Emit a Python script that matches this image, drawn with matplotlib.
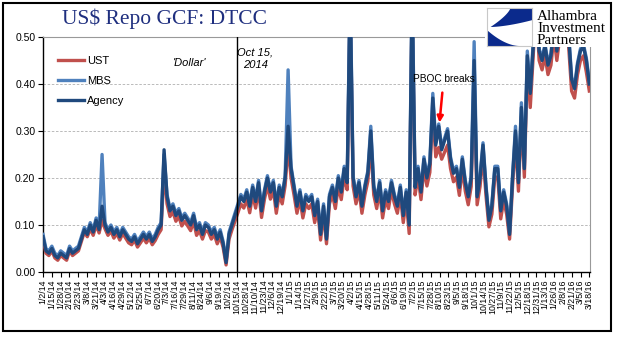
import numpy as np
import pandas as pd
import matplotlib
matplotlib.use("Agg")
import matplotlib.pyplot as plt
from matplotlib.patches import Rectangle, Polygon

# Series, ~7 samples per month, Jan 2014 .. mid-Mar 2016
agency = [
    0.075, 0.045, 0.040, 0.050, 0.035, 0.030, 0.040,   # Jan 14
    0.035, 0.030, 0.050, 0.040, 0.045, 0.050, 0.070,   # Feb
    0.090, 0.080, 0.100, 0.085, 0.110, 0.090, 0.140,   # Mar
    0.100, 0.085, 0.095, 0.080, 0.090, 0.075, 0.090,   # Apr
    0.080, 0.070, 0.065, 0.075, 0.060, 0.070, 0.080,   # May
    0.070, 0.080, 0.065, 0.075, 0.090, 0.100, 0.260,   # Jun
    0.160, 0.130, 0.140, 0.120, 0.130, 0.110, 0.120,   # Jul
    0.110, 0.100, 0.120, 0.090, 0.100, 0.080, 0.100,   # Aug
    0.095, 0.080, 0.090, 0.070, 0.085, 0.060, 0.020,   # Sep
    0.080, 0.100, 0.120, 0.140, 0.160, 0.150, 0.170,   # Oct
    0.140, 0.180, 0.150, 0.190, 0.130, 0.170, 0.200,   # Nov
    0.170, 0.190, 0.140, 0.180, 0.160, 0.200, 0.310,   # Dec
    0.220, 0.180, 0.140, 0.170, 0.130, 0.160, 0.150,   # Jan 15
    0.160, 0.120, 0.150, 0.080, 0.140, 0.070, 0.160,   # Feb
    0.180, 0.150, 0.200, 0.170, 0.220, 0.190, 0.600,   # Mar
    0.200, 0.160, 0.190, 0.140, 0.180, 0.210, 0.300,   # Apr
    0.180, 0.150, 0.190, 0.130, 0.170, 0.150, 0.190,   # May
    0.160, 0.140, 0.180, 0.120, 0.170, 0.100, 0.600,   # Jun
    0.180, 0.220, 0.170, 0.240, 0.200, 0.230, 0.370,   # Jul
    0.270, 0.310, 0.260, 0.280, 0.300, 0.240, 0.210,   # Aug
    0.220, 0.180, 0.240, 0.190, 0.160, 0.200, 0.450,   # Sep
    0.160, 0.200, 0.270, 0.180, 0.110, 0.140, 0.220,   # Oct
    0.220, 0.130, 0.170, 0.140, 0.080, 0.200, 0.300,   # Nov
    0.190, 0.350, 0.220, 0.460, 0.380, 0.480, 0.600,   # Dec
    0.470, 0.450, 0.480, 0.440, 0.460, 0.520, 0.470,   # Jan 16
    0.520, 0.560, 0.540, 0.500, 0.410, 0.390, 0.440,   # Feb
    0.470, 0.480, 0.450, 0.400,                        # Mar
]

ust = [
    0.070, 0.040, 0.035, 0.045, 0.030, 0.025, 0.035,
    0.030, 0.025, 0.045, 0.035, 0.040, 0.045, 0.065,
    0.085, 0.075, 0.092, 0.078, 0.100, 0.083, 0.110,
    0.092, 0.078, 0.087, 0.072, 0.082, 0.068, 0.082,
    0.072, 0.062, 0.058, 0.068, 0.053, 0.062, 0.072,
    0.062, 0.072, 0.058, 0.067, 0.080, 0.090, 0.220,
    0.145, 0.118, 0.128, 0.108, 0.118, 0.098, 0.108,
    0.098, 0.088, 0.108, 0.078, 0.088, 0.070, 0.088,
    0.085, 0.070, 0.080, 0.060, 0.075, 0.052, 0.015,
    0.070, 0.090, 0.108, 0.126, 0.145, 0.136, 0.155,
    0.126, 0.165, 0.136, 0.175, 0.116, 0.155, 0.184,
    0.155, 0.175, 0.125, 0.165, 0.145, 0.184, 0.270,
    0.200, 0.164, 0.125, 0.155, 0.115, 0.145, 0.135,
    0.145, 0.105, 0.135, 0.068, 0.125, 0.060, 0.145,
    0.165, 0.135, 0.183, 0.154, 0.203, 0.175, 0.580,
    0.183, 0.145, 0.174, 0.125, 0.164, 0.193, 0.275,
    0.164, 0.135, 0.174, 0.115, 0.154, 0.135, 0.174,
    0.145, 0.125, 0.164, 0.105, 0.154, 0.082, 0.580,
    0.164, 0.203, 0.154, 0.222, 0.183, 0.212, 0.340,
    0.245, 0.265, 0.240, 0.255, 0.270, 0.220, 0.192,
    0.202, 0.163, 0.222, 0.172, 0.143, 0.182, 0.400,
    0.143, 0.182, 0.250, 0.163, 0.096, 0.123, 0.202,
    0.202, 0.113, 0.152, 0.123, 0.070, 0.182, 0.282,
    0.172, 0.330, 0.202, 0.440, 0.350, 0.460, 0.580,
    0.450, 0.430, 0.460, 0.420, 0.440, 0.500, 0.450,
    0.500, 0.540, 0.520, 0.480, 0.385, 0.370, 0.420,
    0.450, 0.460, 0.425, 0.385,
]

mbs = [
    0.080, 0.050, 0.045, 0.055, 0.040, 0.035, 0.045,
    0.040, 0.035, 0.055, 0.045, 0.050, 0.055, 0.075,
    0.095, 0.085, 0.105, 0.090, 0.115, 0.095, 0.250,
    0.105, 0.090, 0.100, 0.085, 0.095, 0.080, 0.095,
    0.085, 0.075, 0.070, 0.080, 0.065, 0.075, 0.085,
    0.075, 0.085, 0.070, 0.080, 0.095, 0.105, 0.250,
    0.165, 0.135, 0.145, 0.125, 0.135, 0.115, 0.125,
    0.115, 0.105, 0.125, 0.095, 0.105, 0.085, 0.105,
    0.100, 0.085, 0.095, 0.075, 0.090, 0.065, 0.025,
    0.085, 0.105, 0.125, 0.145, 0.165, 0.155, 0.175,
    0.145, 0.185, 0.155, 0.195, 0.135, 0.175, 0.205,
    0.175, 0.195, 0.145, 0.185, 0.165, 0.205, 0.430,
    0.225, 0.185, 0.145, 0.175, 0.135, 0.165, 0.155,
    0.165, 0.125, 0.155, 0.085, 0.145, 0.075, 0.165,
    0.185, 0.155, 0.205, 0.175, 0.225, 0.195, 0.620,
    0.205, 0.165, 0.195, 0.145, 0.185, 0.215, 0.310,
    0.185, 0.155, 0.195, 0.135, 0.175, 0.155, 0.195,
    0.165, 0.145, 0.185, 0.125, 0.175, 0.105, 0.620,
    0.185, 0.225, 0.175, 0.245, 0.205, 0.235, 0.380,
    0.275, 0.315, 0.265, 0.285, 0.305, 0.245, 0.215,
    0.225, 0.185, 0.245, 0.195, 0.165, 0.205, 0.490,
    0.165, 0.205, 0.275, 0.185, 0.115, 0.145, 0.225,
    0.225, 0.135, 0.175, 0.145, 0.085, 0.205, 0.310,
    0.195, 0.360, 0.225, 0.470, 0.385, 0.490, 0.620,
    0.475, 0.455, 0.485, 0.445, 0.465, 0.530, 0.475,
    0.530, 0.570, 0.550, 0.510, 0.415, 0.395, 0.445,
    0.475, 0.485, 0.455, 0.405,
]

start, end = "2014-01-02", "2016-03-18"
dates = pd.date_range(start, end, periods=len(agency))
tick_dates = pd.date_range(start, end, freq="13D")
tick_labels = [f"{d.month}/{d.day}/{d.year % 100}" for d in tick_dates]

fig = plt.figure(figsize=(6.18, 3.41), dpi=100)
ax = fig.add_axes([43 / 618, 1 - 272 / 341, 547 / 618, 235 / 341])

ax.plot(dates, ust, color="#C0504D", lw=2.4, label="UST", zorder=3)
ax.plot(dates, mbs, color="#4F81BD", lw=2.4, label="MBS", zorder=4)
ax.plot(dates, agency, color="#1F497D", lw=2.4, label="Agency", zorder=5)

ax.set_xlim(pd.Timestamp(start), pd.Timestamp("2016-03-19"))
ax.set_ylim(0, 0.5)
ax.set_yticks(np.arange(0, 0.51, 0.1))
ax.set_yticklabels([f"{v:.2f}" for v in np.arange(0, 0.51, 0.1)],
                   fontsize=7.5, family="Liberation Sans")
ax.set_xticks(tick_dates)
ax.set_xticklabels(tick_labels, rotation=90, fontsize=6.3, family="Liberation Sans")
ax.tick_params(axis="both", direction="out", length=3.5, width=0.8, pad=2)

ax.yaxis.grid(True, linestyle=(0, (3, 2)), color="#b0b0b0", lw=0.6)
ax.set_axisbelow(True)
for s in ["top", "right"]:
    ax.spines[s].set_color("#999999")
    ax.spines[s].set_linewidth(0.8)
for s in ["left", "bottom"]:
    ax.spines[s].set_color("black")
    ax.spines[s].set_linewidth(1.0)

ax.axvline(pd.Timestamp("2014-10-15"), color="black", lw=1.0, zorder=6)

ax.legend(loc="upper left", bbox_to_anchor=(0.027, 0.92), frameon=False,
          borderpad=0, borderaxespad=0, handlelength=2.4, handletextpad=0.25,
          labelspacing=0.9, prop={"family": "Liberation Sans", "size": 8})

ax.text(0.269, 0.889, "'Dollar'", transform=ax.transAxes, ha="center", va="center",
        fontsize=8, style="italic", family="Liberation Sans")
ax.text(0.388, 0.908, "Oct 15,\n2014", transform=ax.transAxes, ha="center", va="center",
        fontsize=8, style="italic", family="Liberation Sans", linespacing=1.4)
ax.annotate("PBOC breaks", xy=(pd.Timestamp("2015-08-10"), 0.318),
            xytext=(pd.Timestamp("2015-08-16"), 0.41), ha="center", va="center",
            fontsize=7.3, family="Liberation Sans", zorder=8,
            arrowprops=dict(arrowstyle="-|>", color="red", lw=1.8,
                            mutation_scale=9, shrinkA=4, shrinkB=0))

# title
fig.text(62 / 618, 1 - 24 / 341, "US$ Repo GCF: DTCC", ha="left", va="baseline",
         fontsize=15.5, family="Liberation Serif", color="#1F2F7F")

# logo block (sits over the top right of the plot)
fig.patches.append(Rectangle((485 / 618, 1 - 47 / 341), 123 / 618, 42 / 341,
                             transform=fig.transFigure, facecolor="white",
                             edgecolor="none", zorder=5))
icon = fig.add_axes([487 / 618, 1 - 46 / 341, 45 / 618, 38 / 341], zorder=6)
icon.set_xlim(0, 1)
icon.set_ylim(0, 1)
icon.set_xticks([])
icon.set_yticks([])
for s in icon.spines.values():
    s.set_color("#c8c8c8")
    s.set_linewidth(0.8)
t = np.linspace(0, 1, 30)
upper = [(1, 1), (0.52, 1)] + [(0.52 - 0.44 * u, 1 - 0.5 * u ** 0.7) for u in t] \
    + [(0.08 + 0.92 * u, 0.5 + 0.18 * u ** 1.6) for u in t]
lower = [(0, 0.45), (0, 0)] + [(0.72 - 0.72 * u, 0.0 + 0.42 * u ** 1.8) for u in t]
icon.add_patch(Polygon(upper, closed=True, color="#0B2A8C", lw=0))
icon.add_patch(Polygon(lower, closed=True, color="#0B2A8C", lw=0))

for i, word in enumerate(["Alhambra", "Investment", "Partners"]):
    fig.text(537 / 618, 1 - (20 + 12 * i) / 341, word, ha="left", va="baseline",
             fontsize=11, family="Liberation Serif", color="black", zorder=7)

# outer frame
fig.patches.append(Rectangle((3 / 618, 1 - 331 / 341), 608 / 618, 328 / 341,
                             transform=fig.transFigure, fill=False,
                             edgecolor="black", lw=1.5, zorder=10))

fig.savefig("out.png", dpi=100)
